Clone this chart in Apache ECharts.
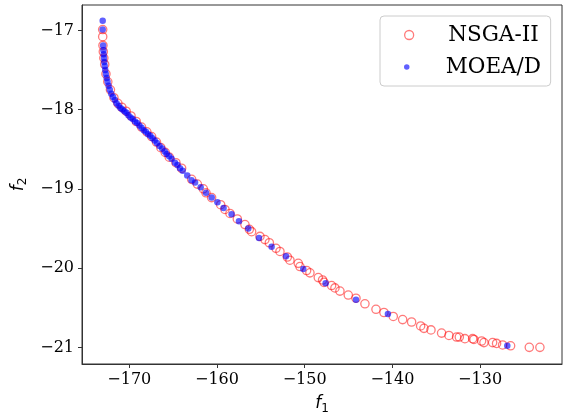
<!DOCTYPE html>
<html>
<head>
<meta charset="utf-8">
<script src="https://cdn.jsdelivr.net/npm/echarts@6/dist/echarts.min.js"></script>
<style>html,body{margin:0;padding:0;background:#fff}#c{width:563px;height:412px}</style>
</head>
<body>
<div id="c"></div>
<script>
// NSGA-II front (f1, f2)
var nsgaF1 = [-173.03,-173.03,-173.0,-172.96,-172.90,-172.80,-172.66,-172.45,-172.15,-171.75,-171.30,-170.85,-170.35,-169.80,-169.20,-168.60,-168.00,-167.45,-166.90,-166.40,-165.90,-165.44,-164.68,-164.03,-162.89,-162.24,-161.56,-161.25,-160.61,-159.58,-159.09,-158.52,-157.68,-156.81,-156.31,-156.05,-155.10,-154.53,-154.03,-153.27,-152.82,-151.98,-151.68,-150.73,-150.54,-149.78,-149.40,-148.45,-147.96,-147.80,-146.93,-146.55,-145.98,-145.03,-144.15,-143.13,-141.87,-140.96,-139.90,-138.83,-137.81,-136.78,-136.40,-135.60,-134.39,-133.55,-132.68,-132.37,-131.73,-130.85,-130.70,-129.83,-129.56,-128.57,-128.12,-127.43,-126.52,-124.39,-123.18];
var nsgaF2 = [-16.99,-17.08,-17.19,-17.27,-17.35,-17.43,-17.55,-17.65,-17.75,-17.85,-17.92,-17.97,-18.02,-18.08,-18.15,-18.22,-18.28,-18.34,-18.41,-18.48,-18.54,-18.60,-18.67,-18.74,-18.88,-18.94,-19.00,-19.05,-19.11,-19.20,-19.26,-19.31,-19.38,-19.45,-19.51,-19.54,-19.60,-19.64,-19.68,-19.75,-19.79,-19.86,-19.90,-19.94,-19.98,-20.03,-20.06,-20.12,-20.15,-20.18,-20.22,-20.25,-20.29,-20.34,-20.38,-20.45,-20.52,-20.56,-20.61,-20.65,-20.68,-20.73,-20.76,-20.78,-20.82,-20.85,-20.87,-20.87,-20.89,-20.89,-20.90,-20.92,-20.94,-20.94,-20.95,-20.97,-20.98,-21.00,-21.00];
// MOEA/D front (f1, f2)
var moeadF1 = [-173.03,-173.03,-172.98,-172.95,-172.92,-172.89,-172.85,-172.80,-172.74,-172.67,-172.58,-172.48,-172.36,-172.22,-172.05,-171.85,-171.65,-171.45,-171.22,-171.00,-170.78,-170.55,-170.32,-170.10,-169.85,-169.60,-169.35,-169.10,-168.85,-168.60,-168.35,-168.10,-167.85,-167.60,-167.35,-167.10,-166.85,-166.55,-166.25,-165.95,-165.74,-165.45,-165.17,-164.79,-164.50,-164.22,-163.91,-163.39,-162.90,-162.50,-161.86,-161.25,-160.60,-159.95,-159.25,-158.33,-157.49,-156.43,-155.21,-153.77,-152.13,-150.16,-147.61,-144.15,-140.51,-126.90];
var moeadF2 = [-16.88,-16.99,-17.19,-17.25,-17.30,-17.35,-17.40,-17.45,-17.50,-17.55,-17.60,-17.65,-17.70,-17.75,-17.80,-17.84,-17.88,-17.92,-17.95,-17.98,-18.00,-18.02,-18.04,-18.07,-18.10,-18.12,-18.15,-18.17,-18.20,-18.23,-18.26,-18.28,-18.31,-18.33,-18.36,-18.39,-18.42,-18.46,-18.49,-18.53,-18.56,-18.59,-18.62,-18.67,-18.70,-18.74,-18.77,-18.83,-18.89,-18.92,-18.98,-19.05,-19.11,-19.17,-19.24,-19.32,-19.41,-19.50,-19.62,-19.73,-19.85,-20.01,-20.19,-20.40,-20.58,-20.98];
var xTicks = [-170,-160,-150,-140,-130];
var yTicks = [-21,-20,-19,-18,-17];
var seriesNames = ['NSGA-II','MOEA/D'];

function zip(a,b){var r=[];for(var i=0;i<a.length;i++)r.push([a[i],b[i]]);return r;}
function fmt(v){return String(v).replace('-','\u2212');}

var axisColor = '#333';
var redEdge = 'rgba(255,0,0,0.65)';
var blueFill = 'rgba(0,0,255,0.78)';
var tickFont = {fontFamily:'DejaVu Serif', fontSize:16, color:'#000'};
var chart = echarts.init(document.getElementById('c'), null, {renderer:'canvas'});
chart.setOption({
  animation:false,
  backgroundColor:'#fff',
  grid:{left:82, top:5, right:1, bottom:48, containLabel:false, outerBoundsMode:'none',
        show:true, borderColor:axisColor, borderWidth:1, backgroundColor:'transparent'},
  xAxis:{
    type:'value', min:-175.39, max:-120.66,
    axisLine:{show:true, onZero:false, lineStyle:{color:axisColor, width:1}},
    axisTick:{show:true, length:4, customValues:xTicks, lineStyle:{color:axisColor}},
    axisLabel:Object.assign({customValues:xTicks, margin:8, formatter:fmt}, tickFont),
    splitLine:{show:false},
    name:'{f|f}{s|1}', nameLocation:'middle', nameGap:24,
    nameTextStyle:{rich:{
      f:{fontFamily:'DejaVu Sans', fontStyle:'italic', fontSize:17, color:'#000', lineHeight:20},
      s:{fontFamily:'DejaVu Sans', fontSize:12, color:'#000', lineHeight:20, padding:[10,0,0,0]}
    }}
  },
  yAxis:{
    type:'value', min:-21.21, max:-16.68,
    axisLine:{show:true, onZero:false, lineStyle:{color:axisColor, width:1}},
    axisTick:{show:true, length:4, customValues:yTicks, lineStyle:{color:axisColor}},
    axisLabel:Object.assign({customValues:yTicks, margin:8, formatter:fmt}, tickFont),
    splitLine:{show:false},
    name:'{f|f}{s|2}', nameLocation:'middle', nameGap:37,
    nameTextStyle:{rich:{
      f:{fontFamily:'DejaVu Sans', fontStyle:'italic', fontSize:17, color:'#000', lineHeight:20},
      s:{fontFamily:'DejaVu Sans', fontSize:12, color:'#000', lineHeight:20, padding:[10,0,0,0]}
    }}
  },
  legend:[
    {
      data:[{name:seriesNames[0], icon:'circle', itemStyle:{color:'rgba(0,0,0,0)', borderColor:redEdge, borderWidth:1.3}}],
      orient:'vertical', left:380, top:16, padding:[7,12,39,24],
      itemWidth:56, itemHeight:9,
      borderColor:'#cccccc', borderWidth:1, borderRadius:4, backgroundColor:'rgba(255,255,255,0.8)',
      textStyle:{fontFamily:'DejaVu Serif', fontSize:21.5, color:'#000', lineHeight:24, padding:[0,0,0,6]},
      selectedMode:false, z:10
    },
    {
      data:[{name:seriesNames[1], icon:'circle', itemStyle:{color:blueFill, borderWidth:0}}],
      orient:'vertical', left:380, top:55, padding:[0,0,0,24],
      itemWidth:56, itemHeight:5.5,
      textStyle:{fontFamily:'DejaVu Serif', fontSize:21.5, color:'#000', lineHeight:24, padding:[0,0,0,6]},
      selectedMode:false, z:11
    }
  ],
  series:[
    {name:seriesNames[0], type:'scatter', symbol:'circle', symbolSize:8.3,
     itemStyle:{color:'rgba(0,0,0,0)', borderColor:redEdge, borderWidth:1.3},
     data:zip(nsgaF1,nsgaF2), z:2},
    {name:seriesNames[1], type:'scatter', symbol:'circle', symbolSize:6.5,
     itemStyle:{color:blueFill, borderWidth:0},
     data:zip(moeadF1,moeadF2), z:3}
  ]
});
</script>
</body>
</html>
